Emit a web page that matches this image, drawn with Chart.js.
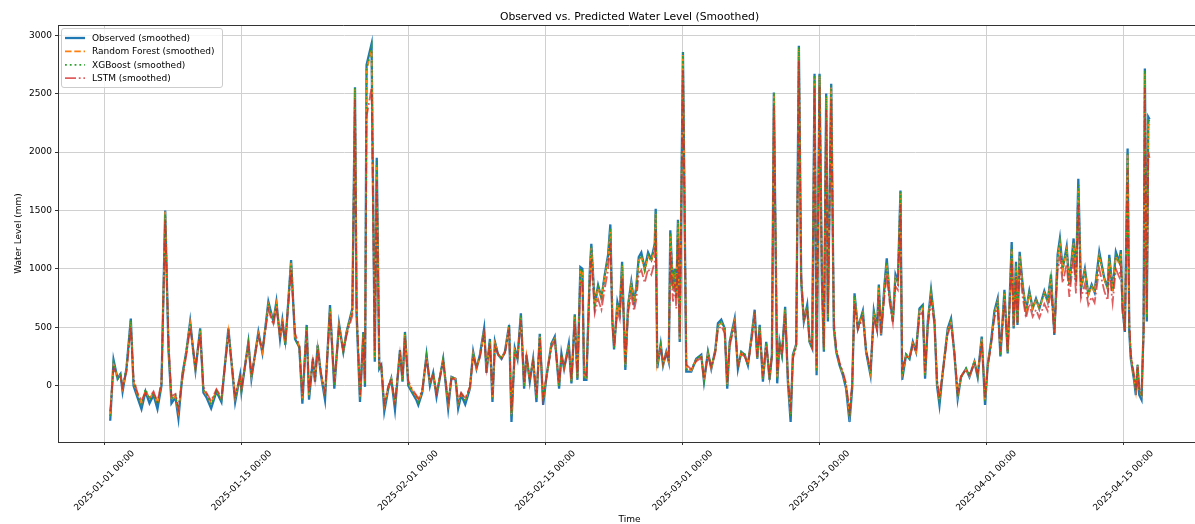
<!DOCTYPE html>
<html>
<head>
<meta charset="utf-8">
<title>Observed vs. Predicted Water Level (Smoothed)</title>
<script src="https://cdn.jsdelivr.net/npm/chart.js@4.4.1/dist/chart.umd.min.js"></script>
<style>
  html, body { margin: 0; padding: 0; background: #fff; overflow: hidden; }
  #wrap { width: 1195px; height: 524px; overflow: hidden; }
</style>
</head>
<body>
<div id="wrap"><canvas id="waterChart" width="1202" height="524"></canvas></div>
<script>
// time in days since 2025-01-01 00:00
const days = [
  0.58,0.92,1.33,1.63,1.84,2.24,2.68,2.96,3.36,3.77,
  4.18,4.59,5.00,5.40,5.81,6.19,6.53,6.83,7.24,7.54,
  7.95,8.36,8.74,9.07,9.28,9.76,10.09,10.40,10.88,11.42,
  11.93,12.64,13.33,13.84,13.97,14.68,14.99,15.70,16.11,16.72,
  17.23,17.54,17.91,18.15,18.45,19.04,19.44,19.88,20.19,20.63,
  20.87,21.26,21.48,21.75,22.07,22.50,23.01,23.45,23.93,24.37,
  24.70,25.29,25.56,25.72,26.07,26.41,26.58,26.74,27.25,27.58,
  27.78,28.04,28.24,28.55,28.96,29.26,29.64,30.15,30.41,30.66,
  31.00,31.40,31.81,32.02,32.42,32.86,33.21,33.54,33.88,34.56,
  35.07,35.41,35.82,36.09,36.40,36.81,37.29,37.62,37.96,38.31,
  38.74,38.98,39.33,39.59,39.84,40.17,40.51,40.86,41.29,41.53,
  41.87,42.14,42.49,42.82,43.06,43.40,43.74,44.08,44.42,44.76,
  45.10,45.61,45.95,46.39,46.63,46.90,47.38,47.65,47.99,48.26,
  48.56,48.77,48.94,49.18,49.52,49.68,50.03,50.37,50.71,51.05,
  51.39,51.62,51.83,52.00,52.34,52.58,52.82,53.15,53.43,53.76,
  54.04,54.27,54.52,54.78,55.13,55.47,55.80,56.15,56.25,56.41,
  56.76,57.00,57.33,57.58,57.74,58.01,58.19,58.35,58.52,58.70,
  59.03,59.37,59.88,60.39,60.90,61.18,61.58,61.92,62.33,62.60,
  62.94,63.29,63.55,63.80,64.31,64.64,64.98,65.33,65.66,66.00,
  66.35,66.61,66.86,67.19,67.53,67.87,68.11,68.31,68.65,68.89,
  69.13,69.46,69.74,70.02,70.25,70.59,70.86,71.10,71.37,71.71,
  71.95,72.22,72.46,72.67,72.97,73.21,73.41,73.65,73.82,74.16,
  74.43,74.67,75.01,75.35,75.68,76.03,76.30,76.54,76.88,77.39,
  77.72,78.17,78.51,78.84,79.02,79.25,79.60,79.83,80.11,80.45,
  80.72,80.96,81.23,81.40,81.80,82.15,82.49,82.82,83.17,83.50,
  83.74,84.02,84.35,84.70,84.96,85.21,85.54,86.05,86.39,86.74,
  87.07,87.41,87.92,88.27,88.78,89.11,89.52,89.86,90.13,90.47,
  90.82,91.15,91.43,91.84,92.17,92.58,92.78,93.02,93.17,93.39,
  93.70,94.04,94.38,94.72,95.06,95.40,95.91,96.25,96.59,96.93,
  97.27,97.50,97.78,98.19,98.46,98.90,99.14,99.38,99.65,100.05,
  100.40,100.74,101.04,101.52,102.03,102.37,102.54,102.88,103.21,103.56,
  103.72,103.90,104.13,104.41,104.58,104.74,105.09,105.25,105.43,105.60,
  105.83,106.04,106.17,106.37,106.52,106.65
];

const observed = [
  -300,220,60,100,-50,150,575,0,-100,-200,
  -50,-150,-80,-200,0,1500,300,-150,-100,-280,
  100,300,550,280,130,490,-60,-100,-195,-50,
  -140,490,-140,90,-50,375,60,460,280,720,
  550,720,400,560,350,1075,400,330,-155,520,
  -120,230,35,350,100,-120,690,-25,530,290,
  460,660,2555,610,-140,460,-10,2745,2925,205,
  1950,145,175,-220,-25,60,-205,305,35,460,
  0,-60,-120,-165,-60,265,0,110,-95,230,
  -195,75,60,-195,-80,-160,-25,290,145,265,
  490,110,400,-140,375,265,230,290,520,-310,
  320,230,620,-25,265,35,230,-140,445,-165,
  75,360,420,-25,275,145,360,20,610,50,
  1015,1000,50,50,975,1215,690,860,750,950,
  1120,1380,550,310,715,630,1060,135,690,890,
  720,845,1100,1140,1000,1140,1080,1215,1515,150,
  355,175,290,205,1330,830,1000,750,1420,375,
  2855,120,120,230,265,35,290,145,305,535,
  565,490,-25,375,575,145,290,265,175,400,
  650,230,520,35,375,50,265,2510,20,375,
  265,675,35,-310,265,355,2910,890,550,690,
  375,320,2670,90,2670,900,290,2500,550,2585,
  490,290,175,90,-25,-310,-25,790,490,640,
  290,90,640,490,865,430,865,1090,780,550,
  950,890,1670,50,265,230,375,290,660,690,
  60,550,820,550,0,-165,110,490,575,265,
  -110,75,145,75,205,75,420,-165,175,375,
  640,745,250,820,275,1230,490,1060,520,1145,
  865,640,810,660,745,660,810,720,950,435,
  1125,1260,1000,1190,865,1260,890,1770,830,1000,
  780,865,800,1145,920,835,1120,810,1145,1060,
  1160,660,460,2030,460,230,35,-80,175,-80,
  -120,490,2715,550,2300,2280
];

const randomForest = [
  -240,180,70,90,-20,130,540,30,-70,-150,
  -40,-110,-60,-150,20,1490,320,-120,-90,-220,
  80,290,530,290,140,470,-30,-80,-150,-40,
  -110,460,-100,80,-30,360,80,440,290,690,
  540,700,410,540,360,1050,420,340,-110,500,
  -80,220,50,330,110,-80,660,10,510,300,
  450,640,2540,640,-100,440,20,2700,2880,240,
  1900,170,170,-170,-10,60,-160,290,50,440,
  20,-40,-90,-130,-50,250,20,100,-70,220,
  -150,70,60,-150,-70,-120,-20,270,150,250,
  470,130,380,-100,360,270,230,290,500,-250,
  300,240,590,0,250,50,220,-100,430,-120,
  80,350,400,0,260,150,350,40,590,70,
  990,980,80,70,950,1180,680,840,740,930,
  1090,1330,570,330,700,620,1030,170,670,870,
  710,830,1070,1110,980,1110,1060,1190,1470,190,
  340,180,280,210,1290,820,980,740,1390,400,
  2830,150,130,220,250,50,280,150,290,510,
  540,480,10,360,550,160,280,260,180,390,
  620,240,500,60,360,70,260,2500,60,360,
  270,650,60,-250,250,350,2880,900,560,670,
  380,330,2650,130,2650,910,310,2470,580,2560,
  510,300,190,100,0,-250,0,760,490,620,
  300,110,620,490,840,440,840,1050,770,560,
  920,880,1650,100,260,240,360,290,640,670,
  90,530,790,550,30,-120,110,470,550,270,
  -80,80,140,80,200,90,400,-120,170,360,
  620,720,270,790,290,1180,510,1030,540,1110,
  850,640,790,660,730,660,790,720,920,460,
  1090,1220,990,1160,860,1220,890,1700,840,980,
  780,850,800,1110,910,830,1090,810,1110,1040,
  1130,680,480,1980,500,250,60,-40,170,-40,
  -80,460,2680,600,2250,2230
];

const xgboost = [
  -260,200,50,110,-30,160,560,20,-80,-160,
  -30,-120,-70,-160,10,1470,310,-110,-80,-230,
  90,310,540,270,150,480,-40,-70,-160,-50,
  -120,480,-110,100,-40,370,70,450,300,700,
  560,710,420,550,370,1060,410,320,-120,510,
  -90,240,40,340,120,-90,670,0,520,290,
  460,650,2550,620,-110,450,10,2720,2900,230,
  1920,160,180,-180,-20,70,-170,300,40,450,
  10,-50,-100,-140,-40,260,10,110,-80,230,
  -160,80,50,-160,-60,-130,-10,280,160,260,
  480,120,390,-110,370,260,240,280,510,-260,
  310,230,600,-10,260,40,230,-110,440,-130,
  70,360,410,-10,270,160,340,30,600,60,
  1000,990,70,60,960,1190,700,850,760,940,
  1100,1350,560,320,710,640,1040,160,680,880,
  720,840,1080,1120,990,1120,1070,1200,1490,180,
  350,190,290,200,1310,840,990,760,1410,390,
  2850,140,140,230,260,40,290,160,300,520,
  550,490,0,370,560,150,290,270,170,400,
  630,230,510,50,370,60,270,2510,50,370,
  260,660,50,-260,260,340,2900,880,550,680,
  370,320,2660,120,2660,890,300,2480,570,2570,
  500,300,180,110,-10,-260,-10,770,500,630,
  290,100,630,500,850,450,850,1060,780,550,
  930,890,1660,90,270,230,370,300,650,680,
  80,540,800,560,20,-130,120,480,560,260,
  -90,70,150,90,210,80,410,-130,180,370,
  630,730,260,800,280,1200,500,1040,530,1120,
  860,650,800,670,740,670,800,730,930,450,
  1100,1230,1000,1170,870,1230,900,1720,830,990,
  790,860,810,1120,920,840,1100,820,1120,1050,
  1140,670,470,2000,490,240,50,-50,180,-50,
  -90,470,2700,580,2280,2260
];

const lstm = [
  -220,150,80,80,-10,120,500,60,-60,-130,
  -60,-100,-50,-140,30,1420,380,-90,-70,-200,
  60,270,500,300,160,440,-10,-60,-130,-30,
  -100,430,-80,70,-20,340,90,420,300,650,
  520,670,430,520,380,990,450,340,-90,470,
  -60,210,60,310,120,-60,620,30,480,300,
  430,600,2450,700,-80,410,40,2300,2550,300,
  1750,200,170,-150,0,50,-140,270,60,410,
  40,-30,-80,-110,-40,230,30,90,-60,200,
  -130,60,50,-130,-60,-110,-10,250,160,240,
  440,150,360,-80,330,270,230,280,470,-220,
  280,240,560,20,240,60,210,-80,400,-100,
  80,330,380,20,250,150,320,50,550,90,
  900,880,110,90,860,1080,620,740,650,830,
  990,1220,520,340,640,570,930,200,620,780,
  640,740,960,990,880,1000,950,1060,1330,240,
  320,190,270,210,1150,720,870,660,1250,420,
  2700,180,140,210,240,60,260,160,280,480,
  510,450,30,340,520,170,270,250,180,370,
  580,250,470,80,340,90,250,2400,100,340,
  260,610,80,-220,230,330,2780,950,560,640,
  390,330,2550,180,2560,960,330,2360,620,2450,
  560,320,200,120,20,-220,20,700,480,580,
  310,130,580,470,770,450,770,950,720,540,
  850,820,1550,150,250,240,340,290,600,630,
  120,500,730,520,60,-100,110,440,520,280,
  -60,80,140,90,190,100,370,-100,160,340,
  580,660,290,720,300,1080,520,930,540,1000,
  760,580,700,590,650,580,700,640,820,450,
  980,1100,880,1040,760,1100,790,1550,750,870,
  690,760,710,1000,810,730,980,710,1000,930,
  1010,620,470,1850,560,270,80,-20,160,-20,
  -60,420,2550,650,2000,1950
];

const xTickDays = [0, 14, 31, 45, 59, 73, 90, 104];
const xTickLabels = ['2025-01-01 00:00', '2025-01-15 00:00', '2025-02-01 00:00', '2025-02-15 00:00',
  '2025-03-01 00:00', '2025-03-15 00:00', '2025-04-01 00:00', '2025-04-15 00:00'];
const yTicks = [0, 500, 1000, 1500, 2000, 2500, 3000];

const FONT = 'DejaVu Sans';
const toPoints = arr => days.map((d, i) => ({ x: d, y: arr[i] }));

const lineBase = { pointRadius: 0, fill: false, tension: 0 };

// titles, x tick labels (matplotlib style, centered rotated), legend, top/right spine
const decor = {
  id: 'decor',
  afterDraw(chart) {
    const { ctx, chartArea: a } = chart;
    const xs = chart.scales.x;
    ctx.save();

    // remaining spines
    ctx.strokeStyle = '#333';
    ctx.lineWidth = 1;
    ctx.beginPath();
    ctx.moveTo(a.left, Math.round(a.top) + 0.5);
    ctx.lineTo(a.right, Math.round(a.top) + 0.5);
    ctx.moveTo(Math.round(a.right) - 0.5, a.top);
    ctx.lineTo(Math.round(a.right) - 0.5, a.bottom);
    ctx.stroke();

    // x tick labels, rotated 45deg, bbox centred on the tick
    ctx.fillStyle = '#000';
    ctx.font = '9px "' + FONT + '"';
    xTickDays.forEach((d, i) => {
      const px = xs.getPixelForValue(d);
      const w = ctx.measureText(xTickLabels[i]).width;
      const side = (w + 10) / Math.SQRT2;
      ctx.save();
      ctx.translate(px, a.bottom + 6.5 + side / 2);
      ctx.rotate(-Math.PI / 4);
      ctx.textAlign = 'center';
      ctx.textBaseline = 'middle';
      ctx.fillText(xTickLabels[i], 0, 0);
      ctx.restore();
    });

    // axis titles
    ctx.textAlign = 'center';
    ctx.textBaseline = 'top';
    ctx.fillText('Time', (a.left + a.right) / 2, 515);
    ctx.save();
    ctx.translate(19, (a.top + a.bottom) / 2);
    ctx.rotate(-Math.PI / 2);
    ctx.textBaseline = 'middle';
    ctx.fillText('Water Level (mm)', 0, 0);
    ctx.restore();

    // chart title
    ctx.font = '10.8px "' + FONT + '"';
    ctx.textBaseline = 'alphabetic';
    ctx.fillText('Observed vs. Predicted Water Level (Smoothed)', (a.left + a.right) / 2, 19.5);

    // legend
    const lx = 61.5, ly = 28.5, lw = 161, lh = 59;
    ctx.beginPath();
    if (ctx.roundRect) ctx.roundRect(lx, ly, lw, lh, 2.5); else ctx.rect(lx, ly, lw, lh);
    ctx.fillStyle = 'rgba(255,255,255,0.8)';
    ctx.fill();
    ctx.strokeStyle = '#cccccc';
    ctx.lineWidth = 1;
    ctx.stroke();

    ctx.font = '9px "' + FONT + '"';
    ctx.textAlign = 'left';
    ctx.textBaseline = 'middle';
    chart.data.datasets.forEach((ds, i) => {
      const ry = 38 + i * 13.4;
      ctx.save();
      ctx.strokeStyle = ds.borderColor;
      ctx.lineWidth = ds.borderWidth;
      ctx.setLineDash(ds.borderDash || []);
      ctx.beginPath();
      ctx.moveTo(65, ry);
      ctx.lineTo(85, ry);
      ctx.stroke();
      ctx.restore();
      ctx.fillStyle = '#000';
      ctx.fillText(ds.label, 92, ry + 0.5);
    });

    ctx.restore();
  }
};

const ctx = document.getElementById('waterChart').getContext('2d');
new Chart(ctx, {
  type: 'line',
  data: {
    datasets: [
      Object.assign({ label: 'Observed (smoothed)', data: toPoints(observed),
        borderColor: '#1f77b4', borderWidth: 2.3, order: 3 }, lineBase),
      Object.assign({ label: 'Random Forest (smoothed)', data: toPoints(randomForest),
        borderColor: '#ff7f0e', borderWidth: 1.8, borderDash: [6.5, 2.8], order: 2 }, lineBase),
      Object.assign({ label: 'XGBoost (smoothed)', data: toPoints(xgboost),
        borderColor: '#2ca02c', borderWidth: 1.8, borderDash: [1.8, 3], order: 1 }, lineBase),
      Object.assign({ label: 'LSTM (smoothed)', data: toPoints(lstm),
        borderColor: 'rgba(214,39,40,0.75)', borderWidth: 1.8, borderDash: [11, 2.8, 1.8, 2.8], order: 0 }, lineBase)
    ]
  },
  options: {
    responsive: false,
    animation: false,
    devicePixelRatio: 1,
    layout: { padding: { top: 25, right: 1, bottom: 0, left: 0 } },
    plugins: {
      legend: { display: false },
      tooltip: { enabled: false },
      title: { display: false }
    },
    scales: {
      x: {
        type: 'linear',
        min: -4.75,
        max: 111.9,
        afterBuildTicks: s => { s.ticks = xTickDays.map(v => ({ value: v })); },
        afterFit: s => { s.height = 82; },
        ticks: { display: false },
        grid: { color: '#d0d0d0', lineWidth: 1, tickLength: 3, tickColor: '#333', tickWidth: 1 },
        border: { color: '#333', width: 1 }
      },
      y: {
        type: 'linear',
        min: -482,
        max: 3087,
        afterBuildTicks: s => { s.ticks = yTicks.map(v => ({ value: v })); },
        afterFit: s => { s.width = 58; },
        ticks: { font: { family: FONT, size: 9 }, color: '#000', padding: 3, callback: v => String(v) },
        grid: { color: '#d0d0d0', lineWidth: 1, tickLength: 3, tickColor: '#333', tickWidth: 1 },
        border: { color: '#333', width: 1 }
      }
    }
  },
  plugins: [decor]
});
</script>
</body>
</html>
